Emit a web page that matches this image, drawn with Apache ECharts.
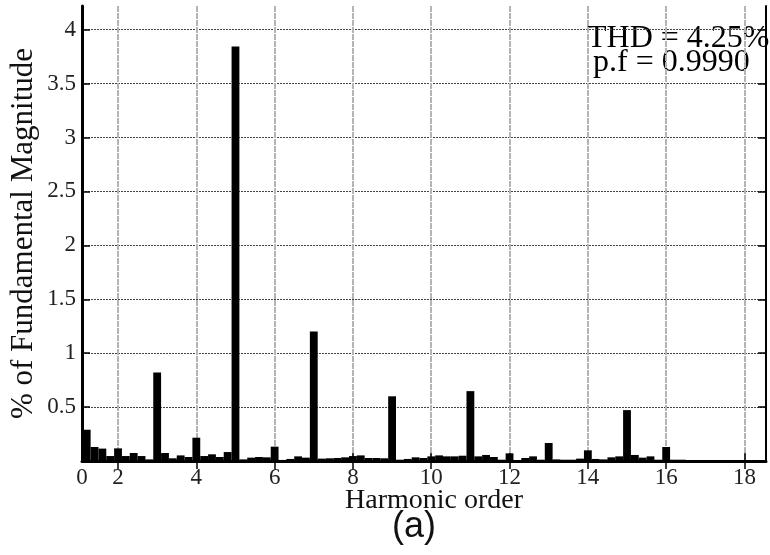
<!DOCTYPE html>
<html>
<head>
<meta charset="utf-8">
<script src="https://cdn.jsdelivr.net/npm/echarts@6/dist/echarts.min.js"></script>
<style>
  html, body { margin: 0; padding: 0; background: #fff; }
  #chart { width: 770px; height: 555px; }
</style>
</head>
<body>
<div id="chart"></div>
<script>
// harmonic orders (0.2 step bins) and their magnitudes in % of fundamental
const orders = [
  1.2, 1.4, 1.6, 1.8, 2.0, 2.2, 2.4, 2.6, 2.8, 3.0,
  3.2, 3.4, 3.6, 3.8, 4.0, 4.2, 4.4, 4.6, 4.8, 5.0,
  5.2, 5.4, 5.6, 5.8, 6.0, 6.2, 6.4, 6.6, 6.8, 7.0,
  7.2, 7.4, 7.6, 7.8, 8.0, 8.2, 8.4, 8.6, 8.8, 9.0,
  9.2, 9.4, 9.6, 9.8, 10.0, 10.2, 10.4, 10.6, 10.8, 11.0,
  11.2, 11.4, 11.6, 11.8, 12.0, 12.2, 12.4, 12.6, 12.8, 13.0,
  13.2, 13.4, 13.6, 13.8, 14.0, 14.2, 14.4, 14.6, 14.8, 15.0,
  15.2, 15.4, 15.6, 15.8, 16.0, 16.2, 16.4, 16.6, 16.8, 17.0,
  17.2, 17.4, 17.6, 17.8, 18.0, 18.2, 18.4
]
const magnitudes = [
  0.29, 0.13, 0.115, 0.046, 0.117, 0.046, 0.074, 0.046, 0.015, 0.82,
  0.074, 0.025, 0.052, 0.037, 0.216, 0.046, 0.062, 0.037, 0.083, 3.845,
  0.015, 0.031, 0.037, 0.034, 0.133, 0.01, 0.019, 0.043, 0.031, 1.2,
  0.022, 0.025, 0.028, 0.034, 0.046, 0.052, 0.028, 0.028, 0.025, 0.6,
  0.012, 0.019, 0.034, 0.028, 0.043, 0.052, 0.043, 0.043, 0.049, 0.648,
  0.043, 0.056, 0.037, 0.012, 0.071, 0.006, 0.028, 0.043, 0.012, 0.167,
  0.015, 0.012, 0.012, 0.022, 0.099, 0.019, 0.015, 0.034, 0.043, 0.472,
  0.056, 0.031, 0.043, 0.012, 0.13, 0.012, 0.012, 0.009, 0.003, 0.002,
  0.002, 0.002, 0.002, 0.002, 0.002, 0.002, 0.002
]
const xMin = 1.08
const xMax = 18.55
const xTicks = [2, 4, 6, 8, 10, 12, 14, 16, 18]
const xLabels = [xMin, 2, 4, 6, 8, 10, 12, 14, 16, 18]
const yTicks = [0.5, 1, 1.5, 2, 2.5, 3, 3.5, 4]
const thdText = 'THD = 4.25%'
const pfText = 'p.f = 0.9990'

const serif = '"Liberation Serif", "Times New Roman", serif'
const chart = echarts.init(document.getElementById('chart'))

const gridLineX = { show: true, lineStyle: { color: '#b4b4b4', width: 2, type: [6, 1] } }
const gridLineY = { show: true, lineStyle: { color: '#444', width: 1, type: [2, 1] } }

chart.setOption({
  animation: false,
  backgroundColor: '#fff',
  grid: { left: 82, right: 4, top: 6, bottom: 94, containLabel: false, outerBoundsMode: 'none' },
  xAxis: [
    {
      type: 'value',
      min: xMin,
      max: xMax,
      axisLine: { show: true, lineStyle: { color: '#000', width: 3 } },
      axisTick: { show: true, inside: true, length: 8, customValues: xTicks, lineStyle: { color: '#000', width: 1.5 } },
      axisLabel: {
        customValues: xLabels,
        formatter: (v) => (v < 1.5 ? '0' : String(v)),
        color: '#222',
        fontFamily: serif,
        fontSize: 23,
        margin: 5,
      },
      splitLine: gridLineX,
    },
    {
      type: 'value',
      position: 'top',
      min: xMin,
      max: xMax,
      axisLine: { show: true, lineStyle: { color: '#000', width: 2 } },
      axisTick: { show: true, inside: true, length: 8, customValues: xTicks, lineStyle: { color: '#000', width: 1.5 } },
      axisLabel: { show: false },
      splitLine: { show: false },
    },
  ],
  yAxis: [
    {
      type: 'value',
      min: 0,
      max: 4.22,
      name: '% of Fundamental Magnitude',
      nameLocation: 'middle',
      nameGap: 43,
      nameMoveOverlap: false,
      nameTextStyle: { fontFamily: serif, fontSize: 31, color: '#111' },
      axisLine: { show: true, lineStyle: { color: '#000', width: 3 } },
      axisTick: { show: true, inside: true, length: 8, customValues: yTicks, lineStyle: { color: '#000', width: 1.5 } },
      axisLabel: {
        customValues: yTicks,
        color: '#222',
        fontFamily: serif,
        fontSize: 23,
        margin: 6,
      },
      splitLine: gridLineY,
    },
    {
      type: 'value',
      position: 'right',
      min: 0,
      max: 4.22,
      axisLine: { show: true, lineStyle: { color: '#000', width: 2 } },
      axisTick: { show: true, inside: true, length: 8, customValues: yTicks, lineStyle: { color: '#000', width: 1.5 } },
      axisLabel: { show: false },
      splitLine: { show: false },
    },
  ],
  series: [
    {
      type: 'bar',
      xAxisIndex: 0,
      yAxisIndex: 0,
      data: orders.map((o, i) => [o, magnitudes[i]]),
      barWidth: '100%',
      itemStyle: { color: '#000' },
      z: 1,
    },
  ],
  graphic: [
    {
      type: 'text',
      left: 345,
      top: 487,
      style: { text: 'Harmonic order', font: `28px ${serif}`, fill: '#111' },
    },
    {
      type: 'text',
      left: 392,
      top: 509,
      style: { text: '(a)', font: '36px "Liberation Sans", Arial, sans-serif', fill: '#111' },
    },
    {
      type: 'text',
      left: 587,
      top: 23,
      style: { text: thdText, font: `32px ${serif}`, fill: '#000' },
    },
    {
      type: 'text',
      left: 593,
      top: 47,
      style: { text: pfText, font: `32px ${serif}`, fill: '#000' },
    },
  ],
})
</script>
</body>
</html>
